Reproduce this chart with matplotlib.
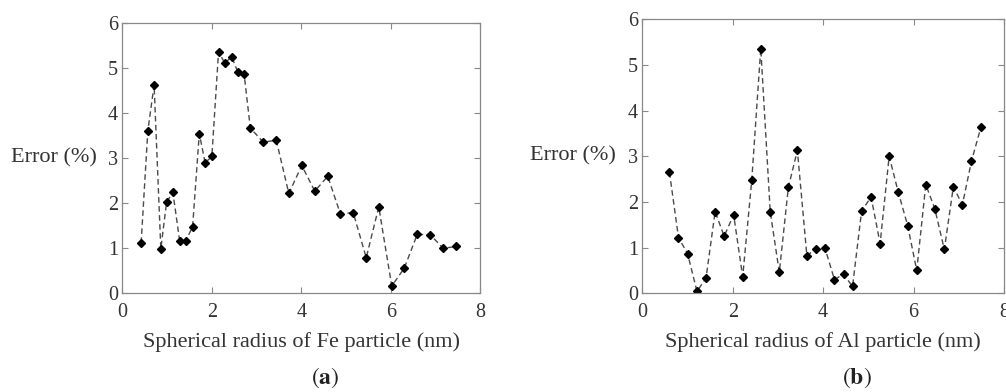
import numpy as np
import matplotlib.pyplot as plt

plt.rcParams['font.family'] = ['Liberation Serif', 'DejaVu Serif']
plt.rcParams['mathtext.fontset'] = 'stix'

# (a) Fe particle
fe_radius = [0.42, 0.57, 0.71, 0.86, 0.99, 1.13, 1.28, 1.42, 1.57, 1.72, 1.85, 2.00,
             2.15, 2.29, 2.44, 2.58, 2.72, 2.86, 3.15, 3.44, 3.72, 4.01, 4.30, 4.59,
             4.87, 5.16, 5.45, 5.73, 6.02, 6.30, 6.59, 6.88, 7.17, 7.46]
fe_error = [1.12, 3.61, 4.63, 0.99, 2.03, 2.24, 1.17, 1.17, 1.48, 3.55, 2.90, 3.04,
            5.37, 5.11, 5.26, 4.92, 4.88, 3.67, 3.36, 3.40, 2.22, 2.84, 2.27, 2.60,
            1.77, 1.79, 0.79, 1.92, 0.16, 0.56, 1.31, 1.30, 1.00, 1.04]

# (b) Al particle
al_radius = [0.60, 0.80, 1.00, 1.21, 1.41, 1.61, 1.81, 2.02, 2.22, 2.42, 2.62, 2.83,
             3.03, 3.23, 3.43, 3.64, 3.84, 4.04, 4.25, 4.45, 4.65, 4.85, 5.06, 5.26,
             5.46, 5.66, 5.87, 6.07, 6.27, 6.47, 6.68, 6.88, 7.08, 7.28, 7.49]
al_error = [2.65, 1.22, 0.87, 0.04, 0.34, 1.79, 1.25, 1.72, 0.36, 2.47, 5.36, 1.78,
            0.46, 2.32, 3.13, 0.82, 0.98, 0.99, 0.30, 0.42, 0.15, 1.80, 2.11, 1.09,
            3.00, 2.22, 1.48, 0.50, 2.38, 1.85, 0.96, 2.33, 1.94, 2.89, 3.64]

fig = plt.figure(figsize=(10.06, 3.92), dpi=100)
ax_a = fig.add_axes([0.1216, 0.2518, 0.3559, 0.6888])
ax_b = fig.add_axes([0.6385, 0.2518, 0.3595, 0.6990])

panels = [(ax_a, fe_radius, fe_error, 'Fe', 0.323, 'a'),
          (ax_b, al_radius, al_error, 'Al', 0.852, 'b')]

for ax, xs, ys, name, lx, tag in panels:
    ax.plot(xs, ys, linestyle='--', color='#4a4a4a', linewidth=1.0, dashes=(4, 2.5),
            marker='D', markersize=4.5, markerfacecolor='black', markeredgecolor='black')
    ax.set_xlim(0, 8)
    ax.set_ylim(0, 6)
    ax.set_xticks([0, 2, 4, 6, 8])
    ax.set_yticks([0, 1, 2, 3, 4, 5, 6])
    ax.tick_params(direction='in', top=True, right=True, labelsize=14.5,
                   colors='#888888', labelcolor='#333333', length=4, width=0.8)
    ax.tick_params(axis='x', pad=7)
    ax.tick_params(axis='y', pad=3)
    for s in ax.spines.values():
        s.set_color('#888888')
        s.set_linewidth(0.9)
    ax.set_xlabel('Spherical radius of %s particle (nm)' % name,
                  fontsize=16, color='#333333', labelpad=7)
    ax.set_ylabel('Error (%)', fontsize=16, color='#333333',
                  rotation=0, ha='right', va='center')
    ax.yaxis.set_label_coords(-0.072, 0.5)
    fig.text(lx, 0.005, '$(\\mathbf{%s})$' % tag, fontsize=17, ha='center',
             va='bottom', color='#222222')

fig.savefig('out.png', dpi=100)
